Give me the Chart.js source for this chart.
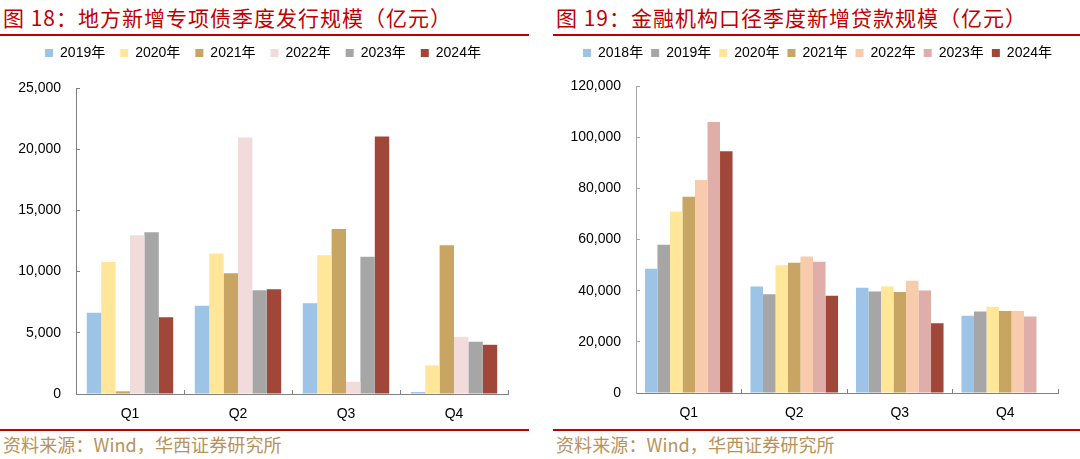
<!DOCTYPE html>
<html><head><meta charset="utf-8">
<script src="https://cdn.jsdelivr.net/npm/chart.js@4.4.1/dist/chart.umd.min.js"></script>
<style>
body{margin:0;width:1080px;height:459px;background:#fff;position:relative;overflow:hidden;font-family:"Noto Sans CJK SC";}
.title{position:absolute;top:2px;font-size:21px;line-height:30px;letter-spacing:1px;color:#c00000;white-space:nowrap;font-family:"Noto Sans CJK SC";}
.rule{position:absolute;height:2px;background:#c00000;}
.src{position:absolute;top:431px;font-size:18px;line-height:26px;letter-spacing:0.1px;color:#b8925a;white-space:nowrap;font-family:"Noto Sans CJK SC";}
.box{position:absolute;width:535px;}
</style></head><body>
<div class="title" style="left:3px">图 18：地方新增专项债季度发行规模（亿元）</div>
<div class="title" style="left:556px">图 19：金融机构口径季度新增贷款规模（亿元）</div>
<div class="rule" style="left:0;width:529px;top:34px"></div>
<div class="rule" style="left:553px;width:527px;top:34px"></div>
<div class="box" style="left:0;top:31px;height:397px"><canvas id="c1"></canvas></div>
<div class="box" style="left:545px;top:38px;height:390px"><canvas id="c2"></canvas></div>
<div class="rule" style="left:0;width:529px;top:429px"></div>
<div class="rule" style="left:553px;width:527px;top:429px"></div>
<div class="src" style="left:3px">资料来源：Wind，华西证券研究所</div>
<div class="src" style="left:556px">资料来源：Wind，华西证券研究所</div>
<script>
// ---- Data ----
const quarters = ['Q1', 'Q2', 'Q3', 'Q4'];

const bondYears = ['2019年', '2020年', '2021年', '2022年', '2023年', '2024年'];
const bond2019 = [6630, 7200, 7420, 160];
const bond2020 = [10790, 11470, 11330, 2340];
const bond2021 = [220, 9860, 13480, 12150];
const bond2022 = [12960, 20950, 1000, 4670];
const bond2023 = [13210, 8480, 11220, 4270];
const bond2024 = [6280, 8560, 21030, 4020];
const bondTicks = [0, 5000, 10000, 15000, 20000, 25000];

const loanYears = ['2018年', '2019年', '2020年', '2021年', '2022年', '2023年', '2024年'];
const loan2018 = [48600, 41600, 41100, 30200];
const loan2019 = [57900, 38600, 39700, 31900];
const loan2020 = [70900, 49900, 41600, 33700];
const loan2021 = [76700, 50900, 39500, 32100];
const loan2022 = [83300, 53400, 43900, 32100];
const loan2023 = [105900, 51300, 40100, 29900];
const loan2024 = [94500, 38000, 27300, null];
const loanTicks = [0, 20000, 40000, 60000, 80000, 100000, 120000];

// ---- Styles ----
const bondColors = ['#9dc3e6', '#ffe699', '#c9a563', '#f2dcdb', '#a6a6a6', '#a0473a'];
const loanColors = ['#9dc3e6', '#a6a6a6', '#ffe699', '#c9a563', '#f8cbad', '#e0aea8', '#a0473a'];
const FONT = "'Liberation Sans', Arial, 'Noto Sans CJK SC', sans-serif";

function legendTweak(extra, dx) {
  return {
    id: 'legendTweak',
    beforeInit(chart) {
      const orig = chart.legend.fit;
      chart.legend.fit = function () { orig.bind(chart.legend)(); this.height += extra; };
    },
    afterLayout(chart) {
      chart.legend.left += dx;
      chart.legend.right += dx;
    }
  };
}

function makeChart(id, seriesNames, seriesData, colors, ticks, cfg) {
  const datasets = seriesNames.map((n, i) => ({
    label: n, data: seriesData[i], backgroundColor: colors[i], borderWidth: 0,
    categoryPercentage: cfg.catPct, barPercentage: 1.0
  }));
  return new Chart(document.getElementById(id), {
    type: 'bar',
    data: { labels: quarters, datasets },
    plugins: [legendTweak(cfg.legendExtra, cfg.legendDx)],
    options: {
      responsive: true, maintainAspectRatio: false, animation: false,
      devicePixelRatio: 1,
      layout: { padding: { left: 0, right: cfg.padRight, top: 0, bottom: 0 } },
      plugins: {
        tooltip: { enabled: false },
        legend: {
          position: 'top', align: 'center',
          labels: {
            font: { family: FONT, size: 14 }, color: '#000',
            boxWidth: 8, boxHeight: 8, padding: cfg.legendPad
          }
        }
      },
      scales: {
        x: {
          grid: { display: true, drawOnChartArea: false, drawTicks: true, tickLength: -4, color: '#808080', offset: true },
          border: { display: true, color: '#808080', width: 1 },
          ticks: { font: { family: FONT, size: 14 }, color: '#000', padding: 16 },
          afterFit(s) { s.height = cfg.xHeight; }
        },
        y: {
          min: 0, max: ticks[ticks.length - 1],
          afterBuildTicks(s) { s.ticks = ticks.map(v => ({ value: v })); },
          grid: { display: true, drawOnChartArea: false, drawTicks: true, tickLength: -4, color: cfg.yColor },
          border: { display: true, color: cfg.yColor, width: 1 },
          ticks: {
            font: { family: FONT, size: 14 }, color: '#000', padding: 19,
            callback: v => Number(v).toLocaleString('en-US')
          },
          afterFit(s) { s.width = cfg.yWidth; }
        }
      }
    }
  });
}

makeChart('c1', bondYears,
  [bond2019, bond2020, bond2021, bond2022, bond2023, bond2024],
  bondColors, bondTicks,
  { catPct: 0.8, padRight: 27, legendPad: 15, legendExtra: 18, legendDx: 9, xHeight: 34, yWidth: 76, yColor: '#808080' });

makeChart('c2', loanYears,
  [loan2018, loan2019, loan2020, loan2021, loan2022, loan2023, loan2024],
  loanColors, loanTicks,
  { catPct: 0.83, padRight: 22, legendPad: 8, legendExtra: 16, legendDx: 16, xHeight: 35, yWidth: 91, yColor: '#a6a6a6' });
</script>
</body></html>
